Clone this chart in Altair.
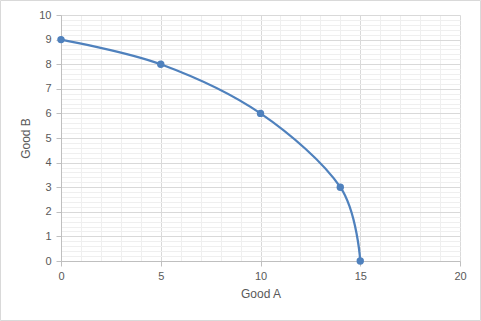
import altair as alt
import pandas as pd

good_a = [0, 5, 10, 14, 15]
good_b = [9, 8, 6, 3, 0]
x_ticks = [0, 5, 10, 15, 20]
y_ticks = list(range(0, 11))

df = pd.DataFrame({"Good A": good_a, "Good B": good_b})

BLUE = "#4f81bd"
FONT = "Liberation Sans"
LBL = "#595959"
MAJOR = "#d9d9d9"
MINOR = "#efefef"

x_minor = [i for i in range(0, 21)]
y_minor = [round(i * 0.2, 1) for i in range(0, 51)]

is_major_x = "datum.value % 5 === 0"
is_major_y = "abs(round(datum.value) - datum.value) < 0.001"

x_axis = alt.Axis(
    values=x_minor,
    labelExpr=f"{is_major_x} ? format(datum.value, 'd') : ''",
    gridColor={"condition": {"test": is_major_x, "value": MAJOR}, "value": MINOR},
    tickOpacity={"condition": {"test": is_major_x, "value": 1}, "value": 0},
    tickColor="#bfbfbf", tickSize=5, domainColor="#bfbfbf",
    labelColor=LBL, labelFont=FONT, labelFontSize=11, labelPadding=4,
    titleColor=LBL, titleFont=FONT, titleFontSize=12, titleFontWeight="normal",
    titlePadding=7, labelFlush=False, labelOverlap=False,
)
y_axis = alt.Axis(
    values=y_minor,
    labelExpr=f"{is_major_y} ? format(round(datum.value), 'd') : ''",
    gridColor={"condition": {"test": is_major_y, "value": MAJOR}, "value": MINOR},
    tickOpacity={"condition": {"test": is_major_y, "value": 1}, "value": 0},
    tickColor="#bfbfbf", tickSize=5, domainColor="#bfbfbf",
    labelColor=LBL, labelFont=FONT, labelFontSize=11, labelPadding=5,
    titleColor=LBL, titleFont=FONT, titleFontSize=12, titleFontWeight="normal",
    titlePadding=6, labelFlush=False, labelOverlap=False,
)

base = alt.Chart(df)
xs = alt.X("Good A:Q", scale=alt.Scale(domain=[0, 20], nice=False), axis=x_axis)
ys = alt.Y("Good B:Q", scale=alt.Scale(domain=[0, 10], nice=False), axis=y_axis)

line = base.mark_line(color=BLUE, strokeWidth=2.25, interpolate="cardinal").encode(x=xs, y=ys)
pts = base.mark_circle(color=BLUE, size=55, opacity=1).encode(x=xs, y=ys)

border = alt.Chart(pd.DataFrame({"a": [0]})).mark_rect(
    fill=None, stroke="#d9d9d9", strokeWidth=1
).encode(
    x=alt.value(-60.5), x2=alt.value(419.5), y=alt.value(-14.5), y2=alt.value(305.5)
)

chart = alt.layer(line, pts, border).properties(
    width=399, height=246,
    autosize=alt.AutoSizeParams(type="none"),
    padding={"left": 61, "top": 15, "right": 21, "bottom": 60},
    background="white",
).configure_view(stroke=None)

chart.save("out.html", embed_options={"renderer": "svg", "actions": False})
